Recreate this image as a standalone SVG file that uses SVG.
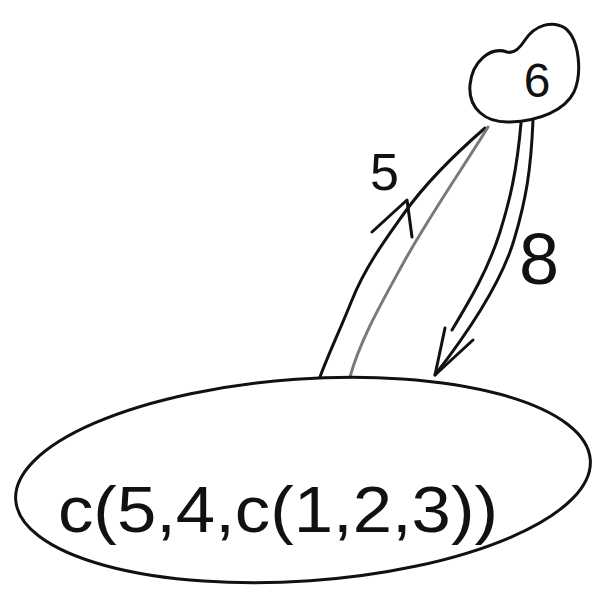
<svg xmlns="http://www.w3.org/2000/svg" width="604" height="596" viewBox="0 0 604 596">
<style>
.s{fill:none;stroke:#111;stroke-width:3;stroke-linecap:round;stroke-linejoin:round}
.g{fill:none;stroke:#7a7a7a;stroke-width:3;stroke-linecap:round}
.t{font-family:"Liberation Sans",Arial,sans-serif;fill:#111}
</style>
<rect width="604" height="596" fill="#fff"/>
<g id="connectors">
<path class="s" d="M485,128 C462,148 428,180 405,212 C388,236 366,265 352,300 C340,330 328,355 320,377"/>
<path class="g" d="M488,127 C468,160 432,212 405,260 C382,302 360,340 350,377"/>
<path class="s" d="M372,232 L407,200 L412,237"/>
<text class="t" x="370" y="190" font-size="52">5</text>
<path class="s" d="M521,123 C517,170 510,200 500,232 C488,270 470,300 452,330"/>
<path class="s" d="M533,120 C531,170 526,200 514,240 C502,280 470,330 435,375"/>
<path class="s" d="M445,328 L435,375 L473,340"/>
<text class="t" x="519" y="284" font-size="72">8</text>
</g>
<g id="node-6">
<path class="s" d="M507,52 C490,46 472,62 470,85 C468,108 485,123 510,122 C540,121 565,110 574,92 C582,74 580,40 565,28 C552,20 535,25 525,40 C520,48 514,54 507,52 Z"/>
<text class="t" x="537" y="97" font-size="48" text-anchor="middle">6</text>
</g>
<g id="node-list">
<ellipse class="s" cx="303" cy="480" rx="288" ry="101" transform="rotate(-4 303 480)"/>
<text class="t" x="58" y="532" font-size="64" textLength="440" lengthAdjust="spacingAndGlyphs">c(5,4,c(1,2,3))</text>
</g>
</svg>
